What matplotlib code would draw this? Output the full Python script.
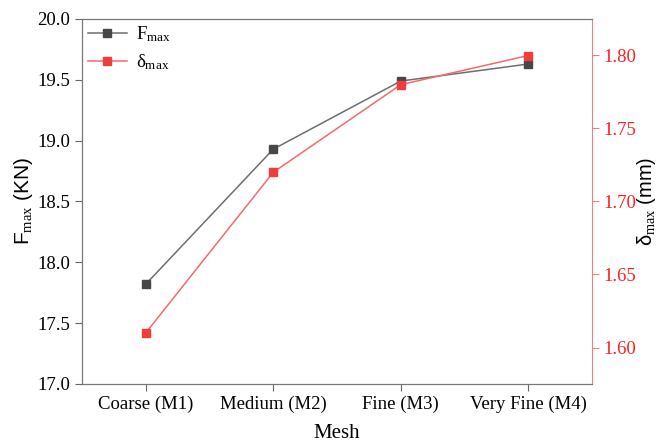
import numpy as np
import matplotlib
matplotlib.use('Agg')
import matplotlib.pyplot as plt

# data
meshes = ['Coarse (M1)', 'Medium (M2)', 'Fine (M3)', 'Very Fine (M4)']
f_max = [17.82, 18.93, 19.49, 19.63]
d_max = [1.61, 1.72, 1.78, 1.80]

plt.rcParams['font.family'] = 'Liberation Serif'
plt.rcParams['mathtext.fontset'] = 'custom'
plt.rcParams['mathtext.rm'] = 'Liberation Serif'
plt.rcParams['mathtext.sf'] = 'Liberation Sans'
plt.rcParams['mathtext.it'] = 'Liberation Serif:italic'

fig = plt.figure(figsize=(6.58, 4.42), dpi=100)
ax = fig.add_axes([82/658, 58/442, 510/658, 365/442])
ax2 = ax.twinx()

x = np.arange(1, len(meshes) + 1)
black = '#474747'
red = '#f23b3b'

l1, = ax.plot(x, f_max, color='#6e6e6e', lw=1.1, marker='s', ms=6,
              mfc=black, mec=black, label=r'F$_{\mathrm{max}}$')
l2, = ax2.plot(x, d_max, color='#f46a6a', lw=1.1, marker='s', ms=6,
               mfc=red, mec=red, label=r'$\mathrm{\delta}_{\mathrm{max}}$')

ax.set_xlim(0.5, 4.5)
ax.set_ylim(17.0, 20.0)
ax2.set_ylim(1.575, 1.825)
ax.set_xticks(x)
ax.set_xticklabels(meshes)
ax.set_yticks(np.arange(17.0, 20.01, 0.5))
ax.yaxis.set_major_formatter(matplotlib.ticker.FormatStrFormatter('%.1f'))
ax2.set_yticks(np.arange(1.60, 1.801, 0.05))
ax2.yaxis.set_major_formatter(matplotlib.ticker.FormatStrFormatter('%.2f'))

ax.tick_params(labelsize=13.5, direction='out', length=5, color='#666666')
ax2.tick_params(labelsize=13.5, direction='out', length=5, colors='#ff2020', pad=3)
ax2.tick_params(axis='y', color='#f08080')

for s in ['left', 'bottom', 'top']:
    ax.spines[s].set_color('#777777')
    ax2.spines[s].set_color('#777777')
ax2.spines['right'].set_color('#f08080')
ax.spines['right'].set_visible(False)

ax.set_xlabel('Mesh', fontsize=15, labelpad=8)
ax.set_ylabel(r'$\mathsf{F}_{\mathrm{max}}$ (KN)', fontsize=15, family='Liberation Sans',
              labelpad=2)
ax2.set_ylabel(r'$\mathsf{\delta}_{\mathrm{max}}$ (mm)', fontsize=14.5, family='Liberation Sans',
               rotation=90, labelpad=-1)

ax.legend(handles=[l1, l2], loc='upper left', frameon=False, fontsize=13.5,
          handlelength=2.1, handletextpad=0.5, borderpad=0.3, borderaxespad=0.0,
          labelspacing=0.45)

fig.savefig('out.png', dpi=100)
